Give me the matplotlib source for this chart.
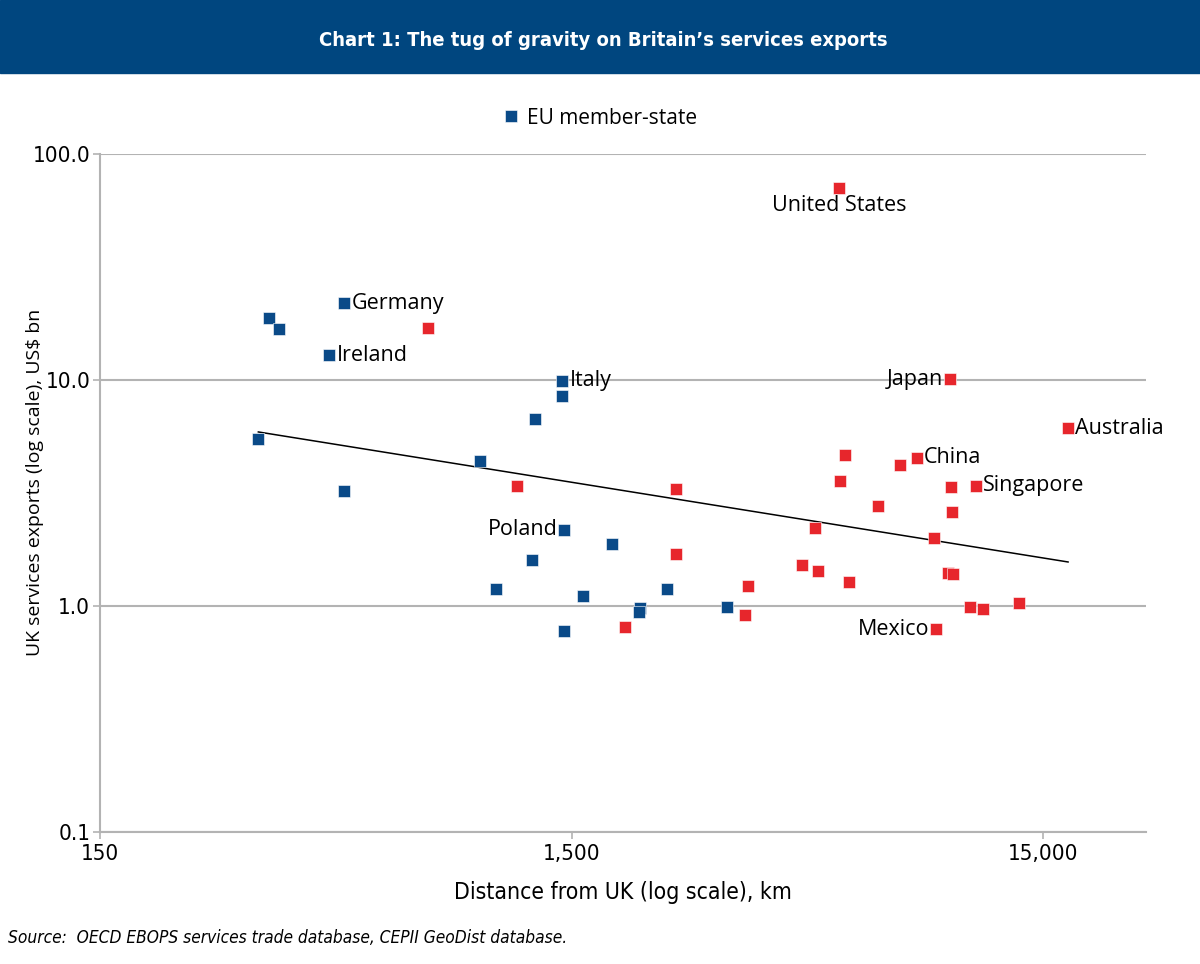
import matplotlib.pyplot as plt
import matplotlib.patches as mpatches

# EU member states: distance from UK (km), UK services exports (US$ bn)
eu_dist = [325, 343, 360, 495, 460, 495, 961, 1435, 1435, 1258,
           1449, 1824, 1234, 1035, 1583, 2091, 2085, 2386, 3200, 1449]
eu_exp = [5.48, 18.8, 16.8, 21.9, 12.9, 3.23, 4.38, 9.9, 8.5, 6.72,
          2.17, 1.88, 1.60, 1.19, 1.11, 0.98, 0.94, 1.19, 0.99, 0.775]

# non-EU countries
non_dist = [745, 1152, 2494, 2494, 1944, 3546, 3494, 5535, 5697, 5570,
            4920, 4617, 4997, 5808, 6698, 7457, 8100, 9519, 9566, 10809,
            9600, 8806, 9424, 9650, 10497, 11190, 13340, 8892, 16950]
non_exp = [17.0, 3.40, 3.29, 1.70, 0.81, 1.23, 0.91, 70.7, 4.66, 3.57,
           2.21, 1.52, 1.43, 1.28, 2.77, 4.21, 4.52, 10.1, 3.36, 3.40,
           2.61, 2.00, 1.40, 1.38, 0.99, 0.97, 1.03, 0.79, 6.13]

# fitted trend line end points
trend_dist = [325, 16950]
trend_exp = [5.89, 1.566]

# labelled countries: name, distance, exports, placement
labels = [
    ("Germany", 495, 21.9, "right"),
    ("Ireland", 460, 12.9, "right"),
    ("Italy", 1435, 9.9, "right"),
    ("Poland", 1449, 2.17, "left"),
    ("United States", 5535, 70.7, "below"),
    ("Japan", 9519, 10.1, "left"),
    ("Australia", 16950, 6.13, "right"),
    ("China", 8100, 4.52, "right"),
    ("Singapore", 10809, 3.40, "right"),
    ("Mexico", 8892, 0.79, "left"),
]

x_ticks = [150, 1500, 15000]
x_ticklabels = ["150", "1,500", "15,000"]
y_ticks = [0.1, 1, 10, 100]
y_ticklabels = ["0.1", "1.0", "10.0", "100.0"]

BLUE = "#0a4a88"
RED = "#e7262c"
BANNER = "#00467f"
GRID = "#b3b3b3"

plt.rcParams["font.family"] = ["DejaVu Sans"]
plt.rcParams["font.stretch"] = "condensed"
LABEL_FONT = ["Open Sans", "DejaVu Sans"]

fig = plt.figure(figsize=(12, 9.64), dpi=100)

# title banner
fig.patches.append(mpatches.Rectangle((0, 1 - 73 / 964), 1, 73 / 964,
                                      transform=fig.transFigure,
                                      color=BANNER, zorder=0))
fig.text(0.503, 1 - 41 / 964, "Chart 1: The tug of gravity on Britain\u2019s services exports",
         color="white", fontsize=14.5, fontweight="bold",
         ha="center", va="center")

ax = fig.add_axes([100 / 1200, 1 - 832 / 964, 1046 / 1200, 678 / 964])
ax.set_xscale("log")
ax.set_yscale("log")
ax.set_xlim(150, 24800)
ax.set_ylim(0.1, 100)

ax.plot(trend_dist, trend_exp, color="black", lw=1.1, zorder=2)
ax.plot(eu_dist, eu_exp, "s", color=BLUE, ms=8.5, mec="white", mew=0.4,
        zorder=3, label="EU member-state")
ax.plot(non_dist, non_exp, "s", color=RED, ms=8.5, mec="white", mew=0.4,
        zorder=3)

for name, x, y, where in labels:
    if where == "right":
        off, ha, va = (5, 0), "left", "center"
    elif where == "left":
        off, ha, va = (-5, 0), "right", "center"
    else:
        off, ha, va = (0, -5), "center", "top"
    ax.annotate(name, (x, y), xytext=off, textcoords="offset points",
                ha=ha, va=va, fontsize=15.5, family=LABEL_FONT,
                fontstretch="normal")

ax.set_xticks(x_ticks)
ax.set_xticklabels(x_ticklabels)
ax.set_yticks(y_ticks)
ax.set_yticklabels(y_ticklabels)
ax.minorticks_off()
ax.tick_params(axis="both", labelsize=16, color=GRID, length=5, width=1.2)
ax.tick_params(axis="y", pad=2)
ax.tick_params(axis="x", pad=4)

ax.grid(axis="y", color=GRID, lw=1.5)
ax.set_axisbelow(True)
for s in ["top", "right"]:
    ax.spines[s].set_visible(False)
for s in ["left", "bottom"]:
    ax.spines[s].set_color(GRID)
    ax.spines[s].set_linewidth(1.5)

ax.set_xlabel("Distance from UK (log scale), km", fontsize=16.5, labelpad=12)
ax.set_ylabel("UK services exports (log scale), US$ bn", fontsize=14,
              family=LABEL_FONT, fontstretch="normal")
ax.yaxis.set_label_coords(-0.054, 0.516)

leg = ax.legend(loc="center", bbox_to_anchor=(0.478, 1 + 36 / 678), frameon=False,
                handlelength=0.8, handletextpad=0.35, markerscale=1.0,
                prop={"family": LABEL_FONT, "size": 15, "stretch": "normal"})

fig.text(8 / 1200, 1 - 938 / 964,
         "Source:  OECD EBOPS services trade database, CEPII GeoDist database.",
         fontsize=12.4, style="italic", ha="left", va="center")

fig.savefig("out.png", dpi=100)
